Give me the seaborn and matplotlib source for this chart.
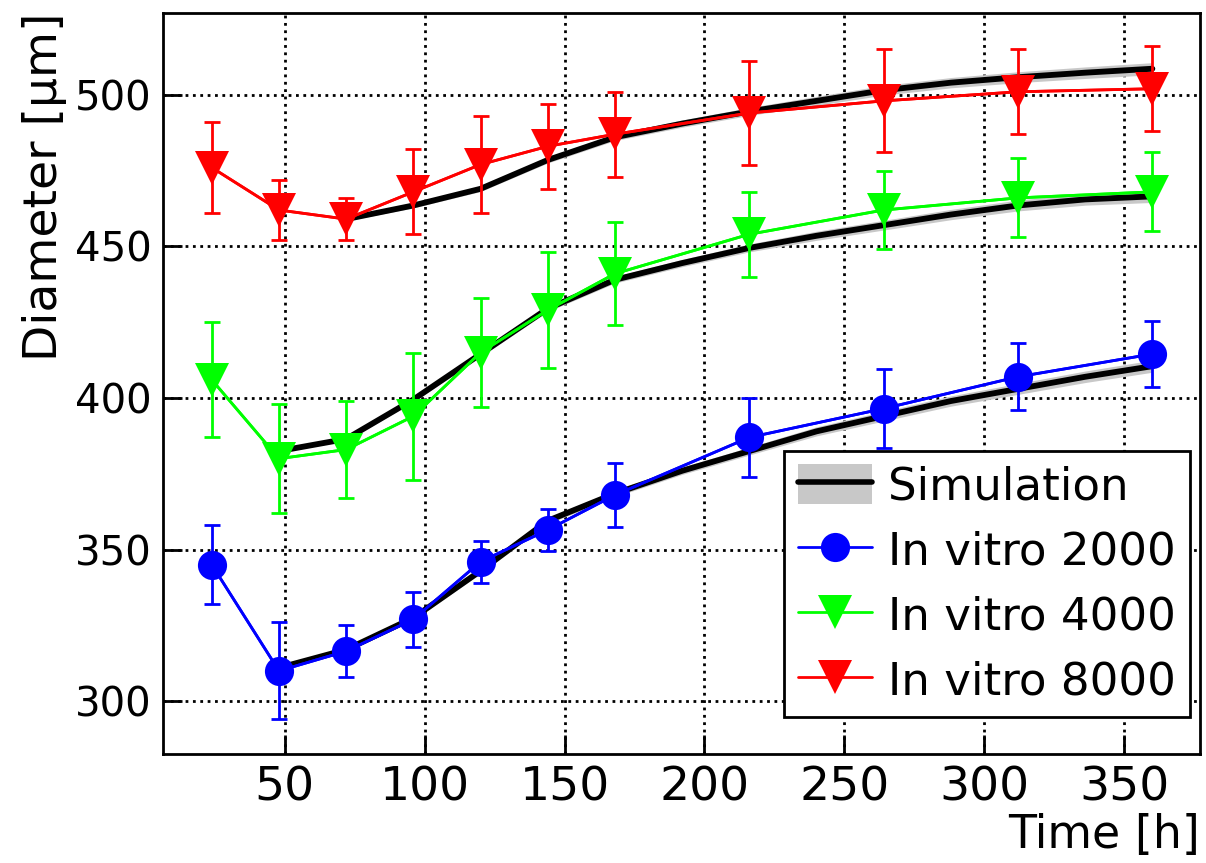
import matplotlib
matplotlib.use('Agg')
import matplotlib.pyplot as plt
import seaborn as sns
from matplotlib.patches import Patch
from matplotlib.lines import Line2D

# measured time points [h]
time = [24, 48, 72, 96, 120, 144, 168, 216, 264, 312, 360]

# in vitro diameters [um] and standard deviations
d2000 = [345, 310, 316.5, 327, 346, 356.5, 368, 387, 396.5, 407, 414.5]
e2000 = [13, 16, 8.5, 9, 7, 7, 10.5, 13, 13, 11, 11]
d4000 = [406, 380, 383, 394, 415, 429, 441, 454, 462, 466, 468]
e4000 = [19, 18, 16, 21, 18, 19, 17, 14, 13, 13, 13]
d8000 = [476, 462, 459, 468, 477, 483, 487, 494, 498, 501, 502]
e8000 = [15, 10, 7, 14, 16, 14, 14, 17, 17, 14, 14]

# simulation curves
sim_time = [48, 72, 96, 120, 144, 168, 192, 216, 240, 264, 288, 312, 336, 360]
sim2000 = [311, 317, 327.5, 343, 359.5, 368.5, 376, 382.5, 389, 394, 399, 403, 407, 410.5]
sim4000 = [382.5, 386.5, 399.5, 414.5, 429.5, 439, 444.5, 449.5, 453.5, 457, 460.5, 463.5, 465.5, 466.5]
sim_time8000 = [72, 96, 120, 144, 168, 192, 216, 240, 264, 288, 312, 336, 360]
sim8000 = [459, 463.5, 469, 478.5, 486, 490.5, 494.5, 498, 501.5, 504, 505.8, 507.3, 508.6]
sim_spread = [0.5, 0.6, 0.8, 0.9, 1.0, 1.1, 1.2, 1.3, 1.5, 1.6, 1.7, 1.8, 1.9, 2.0]

sns.set_style('white')
plt.rcParams['font.family'] = ['DejaVu Sans']
plt.rcParams['text.color'] = 'black'
plt.rcParams['axes.labelcolor'] = 'black'
plt.rcParams['xtick.color'] = 'black'
plt.rcParams['ytick.color'] = 'black'

fig, ax = plt.subplots(figsize=(12.06, 8.63), dpi=100)
fig.subplots_adjust(left=0.135, right=0.995, top=0.985, bottom=0.126)

band = '#c8c8c8'
for t, s, sp in [(sim_time, sim2000, sim_spread),
                 (sim_time, sim4000, sim_spread),
                 (sim_time8000, sim8000, sim_spread[1:])]:
    lo = [v - d for v, d in zip(s, sp)]
    hi = [v + d for v, d in zip(s, sp)]
    ax.fill_between(t, lo, hi, color=band, lw=0, zorder=2)
    sns.lineplot(x=t, y=s, color='black', lw=4.2, ax=ax, zorder=3)

series = [(d2000, e2000, '#0000ff', 'o', 21, 'In vitro 2000'),
          (d4000, e4000, '#00ff00', 'v', 24, 'In vitro 4000'),
          (d8000, e8000, '#ff0000', 'v', 24, 'In vitro 8000')]
handles = [(Patch(facecolor=band, edgecolor='none'),
            Line2D([], [], color='black', lw=4))]
labels = ['Simulation']
for d, e, c, m, ms, lab in series:
    ax.errorbar(time, d, yerr=e, color=c, lw=2, elinewidth=2,
                capsize=6, capthick=2, zorder=4)
    sns.lineplot(x=time, y=d, color=c, marker=m, markersize=ms,
                 markeredgewidth=0, lw=2, ax=ax, zorder=5)
    handles.append(Line2D([], [], color=c, lw=2, marker=m, markersize=ms,
                          markeredgewidth=0))
    labels.append(lab)

ax.set_xlim(6.5, 377)
ax.set_ylim(282.5, 527)
ax.set_xticks([50, 100, 150, 200, 250, 300, 350])
ax.set_yticks([300, 350, 400, 450, 500])
ax.grid(True, color='black', linestyle=':', lw=2)
ax.set_axisbelow(True)
for sp in ax.spines.values():
    sp.set_color('black')
    sp.set_linewidth(2)
ax.tick_params(direction='in', length=14, width=2, top=False, right=False,
               left=True, bottom=True, pad=8)
for lab in ax.get_yticklabels():
    lab.set_fontsize(29)
for lab in ax.get_xticklabels():
    lab.set_fontsize(34)

ax.set_xlabel('Time [h]', loc='right', fontsize=33, labelpad=2)
ax.set_ylabel('Diameter [µm]', loc='top', fontsize=34, labelpad=6)

leg = ax.legend(handles, labels, loc='lower right', bbox_to_anchor=(0.99, 0.05),
                borderaxespad=0, fontsize=32.5, handlelength=1.65, handleheight=1.0,
                handletextpad=0.35, labelspacing=0.45, borderpad=0.3,
                fancybox=False, framealpha=1)
leg.get_frame().set_edgecolor('black')
leg.get_frame().set_linewidth(2)

plt.savefig('out.png', dpi=100)
